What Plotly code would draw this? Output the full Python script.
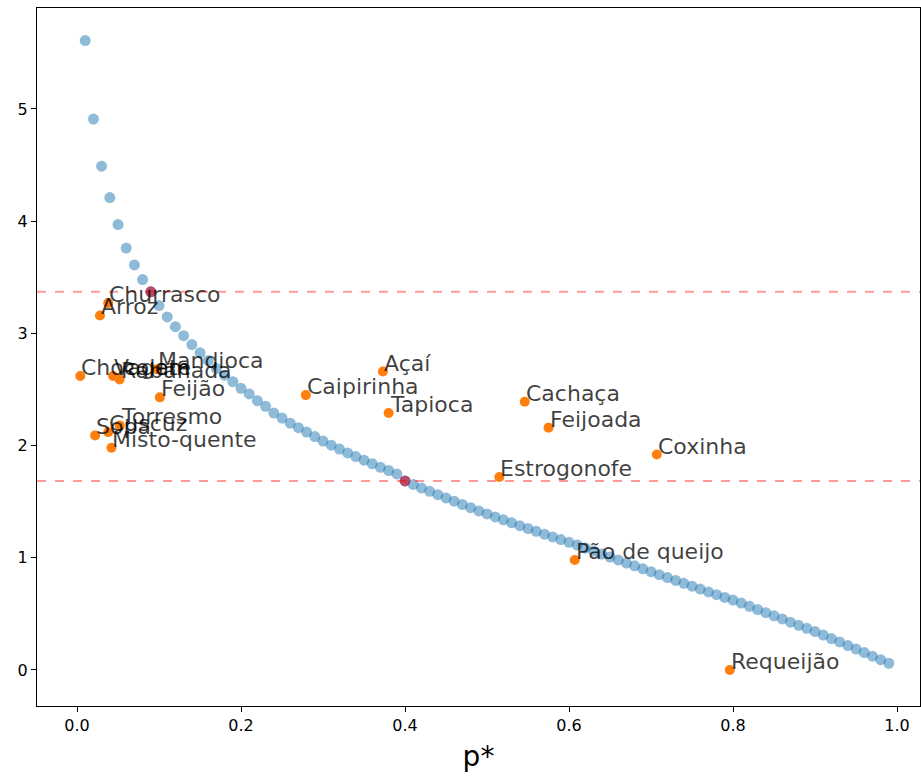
import plotly.graph_objects as go

# Curve: p* grid and score
curve_p = [round(0.01 * i, 2) for i in range(1, 100)]
curve_y = [5.61, 4.91, 4.49, 4.21, 3.97, 3.76, 3.61, 3.48, 3.37, 3.248,
           3.147, 3.06, 2.98, 2.90, 2.827, 2.758, 2.687, 2.627, 2.57, 2.51,
           2.46, 2.40, 2.35, 2.29, 2.245, 2.20, 2.16, 2.12, 2.08, 2.04,
           2.004, 1.969, 1.935, 1.902, 1.87, 1.838, 1.807, 1.778, 1.747, 1.685,
           1.654, 1.623, 1.592, 1.562, 1.533, 1.504, 1.475, 1.447, 1.418, 1.391,
           1.364, 1.338, 1.312, 1.286, 1.261, 1.236, 1.210, 1.186, 1.162, 1.138,
           1.114, 1.087, 1.060, 1.033, 1.007, 0.981, 0.953, 0.928, 0.902, 0.876,
           0.849, 0.824, 0.798, 0.772, 0.747, 0.721, 0.696, 0.671, 0.647, 0.623,
           0.596, 0.567, 0.539, 0.511, 0.483, 0.455, 0.426, 0.398, 0.371, 0.342,
           0.311, 0.280, 0.250, 0.218, 0.186, 0.155, 0.123, 0.092, 0.060]

# Labelled items
words = ["Churrasco", "Arroz", "Chocolate", "Vagem", "Rabanada", "Mandioca",
         "Feijão", "Torresmo", "Sopa", "Cuscuz", "Misto-quente", "Caipirinha",
         "Açaí", "Tapioca", "Cachaça", "Feijoada", "Coxinha", "Estrogonofe",
         "Pão de queijo", "Requeijão"]
word_p = [0.038, 0.028, 0.004, 0.044, 0.052, 0.097, 0.101, 0.052, 0.022, 0.038,
          0.042, 0.279, 0.373, 0.380, 0.546, 0.575, 0.707, 0.515, 0.607, 0.796]
word_y = [3.27, 3.16, 2.62, 2.62, 2.59, 2.68, 2.43, 2.18, 2.09, 2.12,
          1.98, 2.45, 2.66, 2.29, 2.39, 2.16, 1.92, 1.72, 0.98, 0.0]

# Highlighted thresholds
thr_idx = [8, 39]
thr_lines = [3.37, 1.685]

fig = go.Figure()
fig.add_trace(go.Scatter(x=curve_p, y=curve_y, mode="markers",
                         marker=dict(size=11, color="#1f77b4", opacity=0.5, line=dict(width=0)),
                         showlegend=False, hoverinfo="skip"))
fig.add_trace(go.Scatter(x=word_p, y=word_y, mode="markers",
                         marker=dict(size=10, color="#ff7f0e", line=dict(width=0)),
                         showlegend=False))
fig.add_trace(go.Scatter(x=[curve_p[i] for i in thr_idx], y=[curve_y[i] for i in thr_idx],
                         mode="markers",
                         marker=dict(size=11, color="#d00020", opacity=0.6, line=dict(width=0)),
                         showlegend=False))
for yv in thr_lines:
    fig.add_hline(y=yv, line=dict(color="rgba(255,0,0,0.4)", width=2, dash="dash"))

for w, px, py in zip(words, word_p, word_y):
    fig.add_annotation(x=px, y=py, text=w, showarrow=False, xanchor="left", yanchor="bottom",
                       yshift=-6, xshift=-1,
                       font=dict(family="DejaVu Sans", size=22, color="rgba(0,0,0,0.75)"))

axis_common = dict(showline=True, linecolor="black", linewidth=1, mirror=True,
                   ticks="outside", ticklen=5, tickcolor="black", showgrid=False,
                   zeroline=False, tickfont=dict(family="DejaVu Sans", size=16, color="black"))
fig.update_xaxes(range=[-0.0488, 1.028], tickvals=[0, 0.2, 0.4, 0.6, 0.8, 1.0],
                 ticktext=["0.0", "0.2", "0.4", "0.6", "0.8", "1.0"],
                 title=dict(text="p*", font=dict(family="DejaVu Sans", size=28, color="black"),
                            standoff=12),
                 **axis_common)
fig.update_yaxes(range=[-0.321, 5.90], tickvals=[0, 1, 2, 3, 4, 5], **axis_common)
fig.update_layout(width=921, height=776, margin=dict(l=37, r=1, t=8, b=70),
                  plot_bgcolor="white", paper_bgcolor="white")
fig.write_html("out.html")
